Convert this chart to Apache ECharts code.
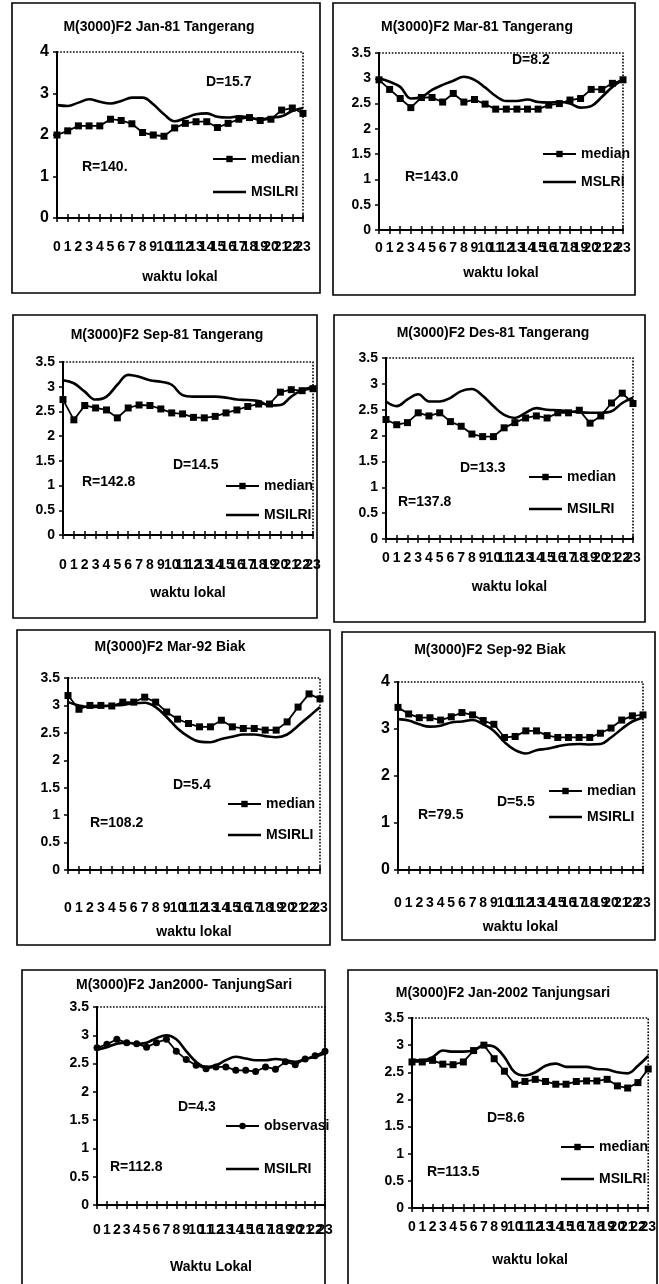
<!DOCTYPE html>
<html>
<head>
<meta charset="utf-8">
<script src="https://cdn.jsdelivr.net/npm/echarts@6/dist/echarts.min.js"></script>
<style>html,body{margin:0;padding:0;background:#fff}#c{width:659px;height:1284px}</style>
</head>
<body>
<div id="c"></div>
<script>
const hours = ['0','1','2','3','4','5','6','7','8','9','10','11','12','13','14','15','16','17','18','19','20','21','22','23'];

const p1Median = [2.0,2.1,2.22,2.22,2.22,2.38,2.35,2.27,2.06,2.0,1.97,2.17,2.28,2.32,2.32,2.18,2.28,2.38,2.42,2.35,2.38,2.6,2.65,2.52];
const p1Model  = [2.72,2.7,2.78,2.86,2.8,2.76,2.82,2.9,2.9,2.74,2.5,2.33,2.41,2.5,2.52,2.44,2.42,2.45,2.42,2.37,2.42,2.45,2.58,2.65];

const p2Median = [2.97,2.78,2.6,2.42,2.62,2.62,2.53,2.7,2.53,2.58,2.49,2.39,2.39,2.39,2.39,2.39,2.47,2.5,2.57,2.6,2.78,2.78,2.9,2.97];
const p2Model  = [3.0,2.93,2.83,2.6,2.63,2.77,2.87,2.95,3.03,2.97,2.82,2.65,2.55,2.55,2.58,2.53,2.52,2.53,2.5,2.42,2.45,2.63,2.83,2.98];

const p3Median = [2.74,2.33,2.62,2.57,2.53,2.37,2.57,2.63,2.62,2.55,2.47,2.45,2.38,2.37,2.4,2.47,2.53,2.6,2.65,2.65,2.89,2.94,2.92,2.96];
const p3Model  = [3.13,3.07,2.9,2.74,2.8,3.04,3.24,3.2,3.13,3.1,3.04,2.83,2.8,2.8,2.8,2.78,2.74,2.73,2.71,2.62,2.63,2.8,2.93,3.0];

const p4Median = [2.31,2.21,2.25,2.44,2.38,2.44,2.27,2.18,2.03,1.98,1.98,2.15,2.25,2.34,2.38,2.34,2.44,2.44,2.49,2.24,2.38,2.63,2.82,2.62];
const p4Model  = [2.66,2.57,2.7,2.8,2.66,2.66,2.73,2.86,2.9,2.77,2.57,2.4,2.34,2.44,2.53,2.5,2.49,2.47,2.45,2.44,2.44,2.47,2.63,2.73];

const p5Median = [3.18,2.93,3.0,3.0,2.99,3.06,3.06,3.15,3.06,2.88,2.75,2.67,2.61,2.61,2.73,2.61,2.58,2.58,2.55,2.55,2.7,2.97,3.21,3.12];
const p5Model  = [3.06,3.0,2.97,2.98,3.0,3.01,3.04,3.05,2.97,2.79,2.58,2.43,2.34,2.33,2.39,2.43,2.47,2.47,2.44,2.42,2.47,2.63,2.8,2.97];

const p6Median = [3.46,3.32,3.24,3.24,3.19,3.26,3.35,3.3,3.18,3.1,2.82,2.84,2.96,2.96,2.86,2.82,2.82,2.82,2.82,2.91,3.02,3.19,3.28,3.3];
const p6Model  = [3.21,3.18,3.1,3.05,3.07,3.14,3.16,3.19,3.1,2.96,2.72,2.55,2.48,2.55,2.58,2.63,2.67,2.68,2.67,2.68,2.82,3.0,3.16,3.24];

const p7Obs    = [2.78,2.84,2.93,2.87,2.85,2.79,2.87,2.93,2.72,2.57,2.47,2.41,2.44,2.44,2.38,2.38,2.36,2.44,2.4,2.53,2.48,2.58,2.64,2.72];
const p7Model  = [2.75,2.79,2.85,2.87,2.85,2.87,2.95,3.0,2.93,2.72,2.53,2.44,2.47,2.56,2.62,2.59,2.56,2.56,2.58,2.56,2.53,2.58,2.62,2.68];

const p8Median = [2.69,2.69,2.72,2.65,2.64,2.69,2.9,3.0,2.75,2.52,2.28,2.33,2.37,2.33,2.28,2.28,2.33,2.34,2.34,2.37,2.25,2.21,2.31,2.56];
const p8Model  = [2.73,2.72,2.78,2.9,2.88,2.88,2.9,3.0,2.97,2.78,2.5,2.44,2.5,2.62,2.66,2.6,2.6,2.6,2.56,2.55,2.5,2.48,2.62,2.8];

const titles = ['M(3000)F2 Jan-81 Tangerang','M(3000)F2 Mar-81 Tangerang','M(3000)F2 Sep-81 Tangerang','M(3000)F2 Des-81 Tangerang','M(3000)F2 Mar-92 Biak','M(3000)F2 Sep-92 Biak','M(3000)F2 Jan2000- TanjungSari','M(3000)F2 Jan-2002 Tanjungsari'];
const rTexts = ['R=140.','R=143.0','R=142.8','R=137.8','R=108.2','R=79.5','R=112.8','R=113.5'];
const dTexts = ['D=15.7','D=8.2','D=14.5','D=13.3','D=5.4','D=5.5','D=4.3','D=8.6'];
const obsNames = ['median','median','median','median','median','median','observasi','median'];
const modelNames = ['MSILRI','MSLRI','MSILRI','MSILRI','MSIRLI','MSIRLI','MSILRI','MSILRI'];
const xNames = ['waktu lokal','waktu lokal','waktu lokal','waktu lokal','waktu lokal','waktu lokal','Waktu Lokal','waktu lokal'];
const obsData = [p1Median,p2Median,p3Median,p4Median,p5Median,p6Median,p7Obs,p8Median];
const modelData = [p1Model,p2Model,p3Model,p4Model,p5Model,p6Model,p7Model,p8Model];
const yMax = [4,3.5,3.5,3.5,3.5,4,3.5,3.5];
const yStep = [1,0.5,0.5,0.5,0.5,1,0.5,0.5];

// layout (pixels)
const L = [
  {box:[12,3,308,290], grid:[57,52,246,166], title:[159,27], lab:22, name:52, d:[206,82], r:[82,167], leg:[207,147,19]},
  {box:[333,3,302,292], grid:[379,53,244,177], title:[477,27], lab:11, name:36, d:[512,60], r:[405,177], leg:[537,142,14]},
  {box:[13,315,304,303], grid:[63,362,250,173], title:[167,335], lab:23, name:51, d:[173,465], r:[82,482], leg:[220,474,15]},
  {box:[334,315,311,307], grid:[386,358,247,181], title:[493,333], lab:12, name:41, d:[460,468], r:[398,502], leg:[523,465,18]},
  {box:[17,630,313,315], grid:[68,678,252,192], title:[170,647], lab:31, name:55, d:[173,785], r:[90,823], leg:[222,792,17]},
  {box:[342,632,313,308], grid:[398,682,245,188], title:[490,650], lab:26, name:50, d:[497,802], r:[418,815], leg:[543,779,12]},
  {box:[22,970,303,320], grid:[97,1007,228,198], title:[184,985], lab:18, name:55, d:[178,1107], r:[110,1167], leg:[220,1114,29]},
  {box:[348,970,309,320], grid:[412,1018,240,190], title:[503,993], lab:12, name:45, d:[487,1118], r:[427,1172], leg:[555,1135,18]}
];

const FF = "'Liberation Sans Narrow','Liberation Sans',Arial,sans-serif";
const LINE_ICON = 'path://M0,0 L100,0 L100,8 L0,8 Z';
const grids=[], xAxes=[], yAxes=[], series=[], legends=[], graphics=[];

L.forEach((p,i)=>{
  const [gx,gy,gw,gh] = p.grid;
  grids.push({left:gx, top:gy, width:gw, height:gh, show:true, borderColor:'#000', borderWidth:1.6, borderType:'dotted', backgroundColor:'transparent'});
  const xi = xAxes.length;
  xAxes.push({type:'category', gridIndex:i, data:hours, boundaryGap:false,
    axisLine:{lineStyle:{color:'#000', width:2}},
    axisTick:{show:true, interval:0, length:4, lineStyle:{color:'#000', width:1.5}},
    axisLabel:{interval:0, color:'#000', fontFamily:FF, fontWeight:'bold', fontSize:14, margin:p.lab},
    name:xNames[i], nameLocation:'middle', nameGap:p.name,
    nameTextStyle:{color:'#000', fontFamily:FF, fontWeight:'bold', fontSize:14},
    splitLine:{show:false}});
  xAxes.push({type:'category', gridIndex:i, data:hours, boundaryGap:false, position:'bottom',
    axisLine:{show:false}, axisLabel:{show:false},
    axisTick:{show:true, inside:true, interval:0, length:4, lineStyle:{color:'#000', width:1.5}},
    splitLine:{show:false}});
  const yi = yAxes.length;
  yAxes.push({type:'value', gridIndex:i, min:0, max:yMax[i], interval:yStep[i],
    axisLine:{show:true, lineStyle:{color:'#000', width:2}},
    axisTick:{show:true, length:4, lineStyle:{color:'#000', width:1.5}},
    axisLabel:{color:'#000', fontFamily:FF, fontWeight:'bold', fontSize:yStep[i]===1?16:14, margin:8},
    splitLine:{show:false}});
  series.push({name:modelNames[i], type:'line', xAxisIndex:xi, yAxisIndex:yi, data:modelData[i],
    smooth:0.4, showSymbol:false, symbol:'none', lineStyle:{color:'#000', width:2.6}, itemStyle:{color:'#000'}, z:2});
  series.push({name:obsNames[i], type:'line', xAxisIndex:xi, yAxisIndex:yi, data:obsData[i],
    symbol: i===6 ? 'circle' : 'rect', symbolSize: 7, lineStyle:{color:'#000', width:1.8}, itemStyle:{color:'#000'}, z:3});
  legends.push({left:p.leg[0], top:p.leg[1], orient:'vertical', itemGap:p.leg[2], itemWidth:33, itemHeight:8,
    symbolKeepAspect:true,
    data:[obsNames[i], {name:modelNames[i], icon:LINE_ICON, itemStyle:{color:'#000'}}], selectedMode:false,
    textStyle:{color:'#000', fontFamily:FF, fontWeight:'bold', fontSize:14}});
  graphics.push({type:'rect', shape:{x:p.box[0], y:p.box[1], width:p.box[2], height:p.box[3]}, style:{fill:'none', stroke:'#000', lineWidth:1.6}, silent:true});
  graphics.push({type:'text', x:p.title[0], y:p.title[1], style:{text:titles[i], fill:'#000', font:"bold 14px "+FF, textAlign:'center', textVerticalAlign:'middle'}});
  graphics.push({type:'text', x:p.d[0], y:p.d[1], style:{text:dTexts[i], fill:'#000', font:"bold 14px "+FF, textAlign:'left', textVerticalAlign:'middle'}});
  graphics.push({type:'text', x:p.r[0], y:p.r[1], style:{text:rTexts[i], fill:'#000', font:"bold 14px "+FF, textAlign:'left', textVerticalAlign:'middle'}});
});

const chart = echarts.init(document.getElementById('c'), null, {renderer:'canvas'});
chart.setOption({
  animation:false,
  backgroundColor:'#fff',
  grid:grids, xAxis:xAxes, yAxis:yAxes, series:series, legend:legends,
  graphic:graphics
});
</script>
</body>
</html>
